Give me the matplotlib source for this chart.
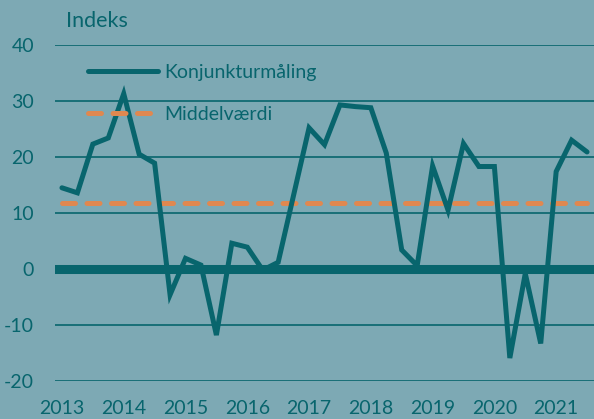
import matplotlib.pyplot as plt

plt.rcParams['font.family'] = ['Lato', 'DejaVu Sans']

# quarterly index, 2013 Q1 .. 2021 Q3
konjunktur = [14.5, 13.6, 22.3, 23.4, 31.3, 20.5, 18.9, -4.6,
              1.9, 0.7, -11.8, 4.6, 3.9, -0.2, 1.2, 13.2,
              25.2, 22.2, 29.3, 29.0, 28.8, 20.7, 3.4, 0.6,
              18.4, 10.5, 22.4, 18.3, 18.3, -15.9, -0.8, -13.3,
              17.4, 23.0, 20.9]
middel = 11.7
years = ['2013', '2014', '2015', '2016', '2017', '2018', '2019', '2020', '2021']
yticks = [-20, -10, 0, 10, 20, 30, 40]

bg = '#7da9b4'
teal = '#08656d'
orange = '#e08850'

fig = plt.figure(figsize=(5.94, 4.19), dpi=100, facecolor=bg)
ax = fig.add_axes([0.0926, 0.0907, 0.9074, 0.8019], facecolor=bg)

x = list(range(len(konjunktur)))
for y in yticks:
    if y != 0:
        ax.axhline(y, color=teal, lw=1.2, zorder=1)
ax.axhline(0, color=teal, lw=6.5, zorder=1)

ax.plot(x, [middel] * len(x), color=orange, lw=3.6, dashes=(2.6, 2.3),
        dash_capstyle='round', label='Middelværdi', zorder=2)
ax.plot(x, konjunktur, color=teal, lw=3.6, solid_capstyle='round',
        solid_joinstyle='miter', label='Konjunkturmåling', zorder=3)

ax.set_xlim(-0.45, 34.45)
ax.set_ylim(-20, 40)
ax.set_yticks(yticks)
ax.set_yticklabels([str(v) for v in yticks])
ax.set_xticks([4 * i for i in range(len(years))])
ax.set_xticklabels(years)
ax.tick_params(length=0, colors=teal, labelsize=14)
ax.tick_params(axis='y', pad=15)
ax.tick_params(axis='x', pad=14)
for s in ax.spines.values():
    s.set_visible(False)

handles, labels = ax.get_legend_handles_labels()
ax.legend(handles[::-1], labels[::-1], loc='upper left', bbox_to_anchor=(0.028, 0.997),
          frameon=False, fontsize=14, handlelength=3.6, handletextpad=0.35,
          labelspacing=1.3, labelcolor=teal)

fig.text(66 / 594, 1 - 21 / 419, 'Indeks', color=teal, fontsize=15.5, va='center', ha='left')

fig.savefig('out.png', dpi=100, facecolor=bg)
